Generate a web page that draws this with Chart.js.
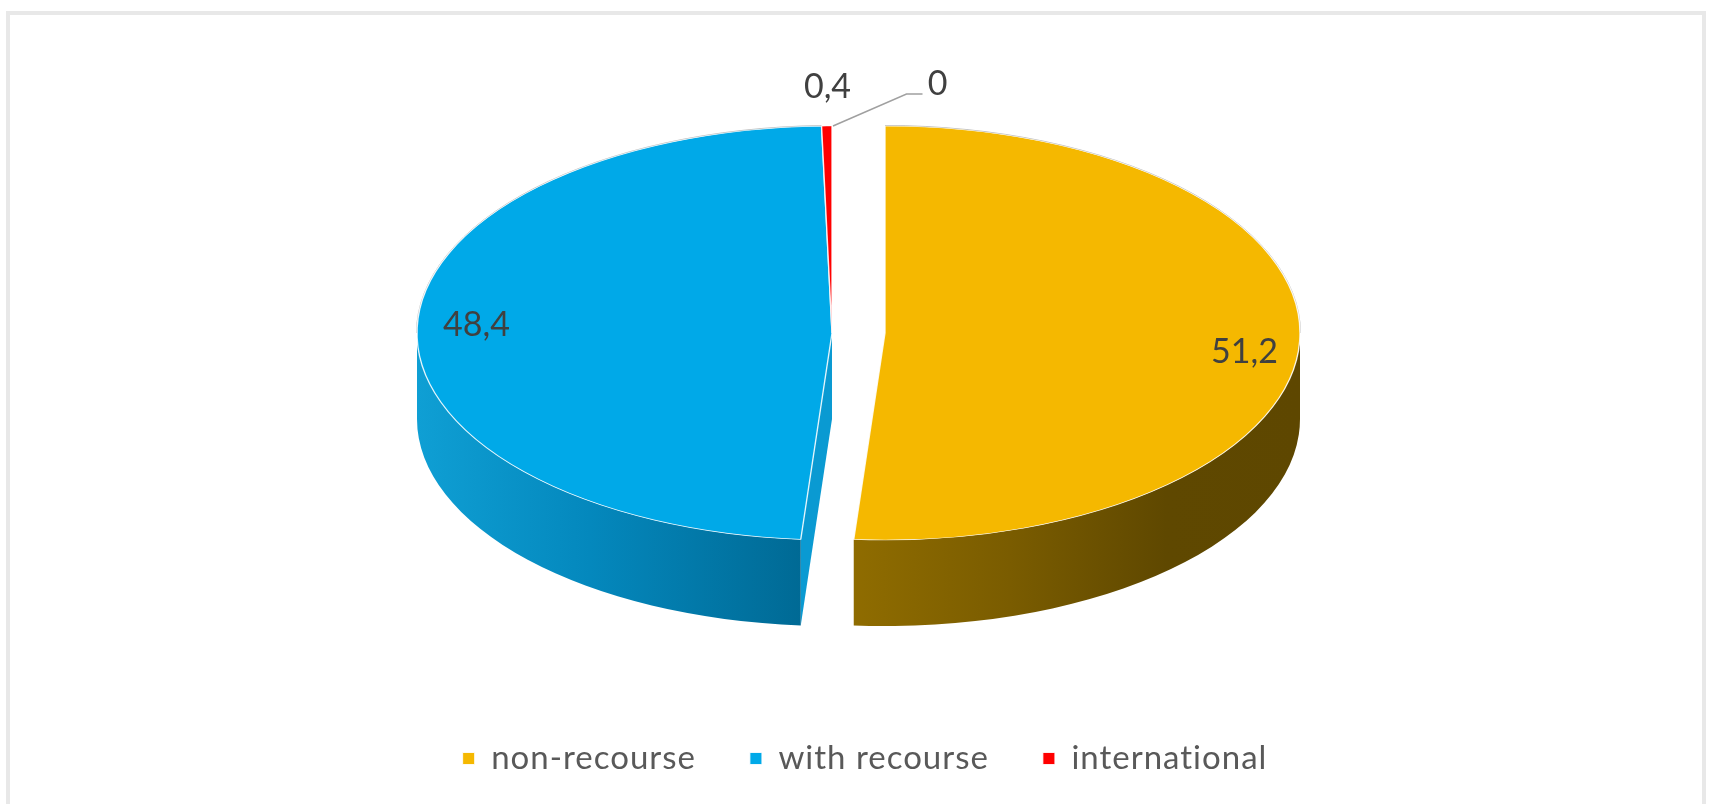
<!DOCTYPE html>
<html lang="en">
<head>
    <meta charset="UTF-8">
    <title>Factoring by type</title>
    <script src="https://cdn.jsdelivr.net/npm/chart.js"></script>
    <style>
        html, body {
            margin: 0;
            background: #fff;
            overflow: hidden;
        }
        #frame {
            position: absolute;
            left: 6px;
            top: 11px;
            right: 7px;
            bottom: -10px;
            border: 4px solid #e8e8e8;
        }
        #wrap {
            position: absolute;
            left: 0;
            top: 0;
            width: 1713px;
            height: 804px;
            overflow: hidden;
            filter: blur(0.6px);
        }
    </style>
</head>
<body>
    <div id="frame"></div>
    <div id="wrap"><canvas id="pie" width="1713" height="785"></canvas></div>

    <script>
        const categories = ["non-recourse", "with recourse", "international", ""];
        const shares = [51.2, 48.4, 0.4, 0];
        const shareLabels = ["51,2", "48,4", "0,4", "0"];

        const topColors = ["#f5b800", "#00a9e8", "#ff0000", "#7f7f7f"];

        // the tilted look: pie is drawn flat by Chart.js then squashed onto this ellipse
        const center = { x: 858.5, y: 333 };
        const rx = 415, ry = 207, depth = 86;
        const baseRadius = 300;
        // sideways split of each slice (Excel explodes them left/right here)
        const shiftX = [26.5, -26.5, -26.5, -26.5];
        // label centres, relative to the ellipse centre
        const labelAt = [[386, 19], [-382, -8], [-31, -246], [79, -249]];

        const wallColors = [
            [[0, "#8f6c00"], [0.35, "#7a5c00"], [0.7, "#5f4800"], [1, "#5e4700"]],
            [[0, "#0f9fd4"], [0.45, "#0488bd"], [1, "#006a95"]]
        ];

        function drawWalls(ctx, arcs) {
            arcs.forEach((arc, i) => {
                if (!wallColors[i]) return;
                const cx = center.x + shiftX[i];
                const from = Math.max(arc.startAngle, 0);
                const to = Math.min(arc.endAngle, Math.PI);
                if (to <= from) return;

                // faint grey rim along the back edge
                const backFrom = i === 0 ? arc.startAngle : Math.PI;
                const backTo = i === 0 ? 0 : arc.endAngle;
                ctx.beginPath();
                ctx.ellipse(cx, center.y, rx + 0.5, ry + 0.5, 0, backFrom, backTo);
                ctx.strokeStyle = "rgba(110,110,110,0.45)";
                ctx.lineWidth = 1;
                ctx.stroke();

                // flat cut face of the slice, only shows on the blue one
                if (i === 1) {
                    const ex = cx + rx * Math.cos(arc.startAngle);
                    const ey = center.y + ry * Math.sin(arc.startAngle);
                    ctx.beginPath();
                    ctx.moveTo(cx, center.y);
                    ctx.lineTo(ex, ey);
                    ctx.lineTo(ex, ey + depth);
                    ctx.lineTo(cx, center.y + depth);
                    ctx.closePath();
                    ctx.fillStyle = "#0a9ad2";
                    ctx.fill();
                }

                const x0 = cx + rx * Math.cos(to);
                const x1 = cx + rx * Math.cos(from);
                const grad = ctx.createLinearGradient(x0, 0, x1, 0);
                wallColors[i].forEach(s => grad.addColorStop(s[0], s[1]));

                ctx.beginPath();
                ctx.ellipse(cx, center.y, rx, ry, 0, from, to);
                ctx.ellipse(cx, center.y + depth, rx, ry, 0, to, from, true);
                ctx.closePath();
                ctx.fillStyle = grad;
                ctx.fill();
            });
        }

        const tiltedPie = {
            id: "tiltedPie",
            // legend text in the reference is loosely spaced
            beforeLayout(chart) {
                chart.ctx.letterSpacing = "1px";
            },
            beforeDatasetsDraw(chart) {
                const ctx = chart.ctx;
                const arcs = chart.getDatasetMeta(0).data;
                drawWalls(ctx, arcs);
                arcs.forEach((arc, i) => {
                    ctx.save();
                    ctx.translate(center.x + shiftX[i], center.y);
                    ctx.scale(rx / arc.outerRadius, ry / arc.outerRadius);
                    ctx.translate(-arc.x, -arc.y);
                    arc.draw(ctx);
                    ctx.restore();
                });
                return false;
            },
            afterDraw(chart) {
                const ctx = chart.ctx;
                ctx.save();
                // leader line of the zero slice
                const redTop = center.x + shiftX[3];
                ctx.beginPath();
                ctx.moveTo(redTop + 1, center.y - ry);
                ctx.lineTo(center.x + 48, center.y - 239);
                ctx.lineTo(center.x + 64, center.y - 239);
                ctx.strokeStyle = "#a0a0a0";
                ctx.lineWidth = 1.5;
                ctx.stroke();

                ctx.font = "34px Lato";
                ctx.letterSpacing = "0px";
                ctx.fillStyle = "#404040";
                ctx.textAlign = "center";
                ctx.textBaseline = "middle";
                shareLabels.forEach((txt, i) => {
                    ctx.fillText(txt, center.x + labelAt[i][0], center.y + labelAt[i][1]);
                });
                ctx.restore();
            }
        };

        new Chart(document.getElementById("pie"), {
            type: "pie",
            data: {
                labels: categories,
                datasets: [{
                    data: shares,
                    backgroundColor: topColors,
                    borderColor: "rgba(255,255,255,0.85)",
                    borderWidth: 1,
                    radius: baseRadius
                }]
            },
            options: {
                responsive: false,
                animation: false,
                layout: { padding: { left: 17 } },
                plugins: {
                    tooltip: { enabled: false },
                    legend: {
                        position: "bottom",
                        labels: {
                            filter: item => item.text !== "",
                            boxWidth: 12,
                            boxHeight: 12,
                            padding: 54,
                            color: "#595959",
                            font: { family: "Lato", size: 33 }
                        }
                    }
                }
            },
            plugins: [tiltedPie]
        });
    </script>
</body>
</html>
